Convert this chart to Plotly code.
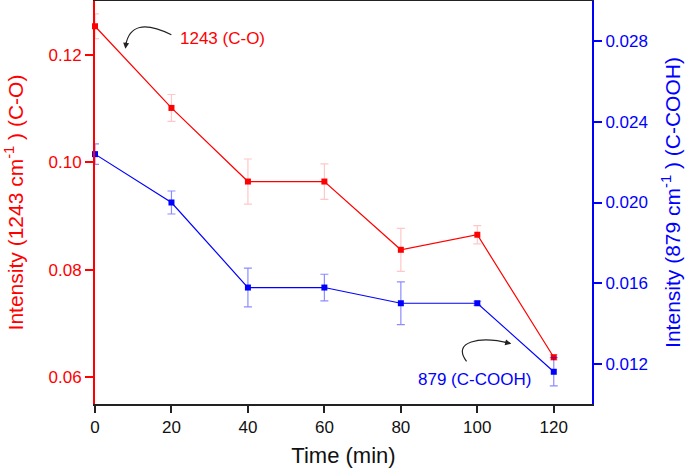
import plotly.graph_objects as go

time_min = [0, 20, 40, 60, 80, 100, 120]
co_1243 = [0.1253, 0.1101, 0.0964, 0.0964, 0.0837, 0.0865, 0.0637]
co_1243_err = [0.0023, 0.0025, 0.0042, 0.0033, 0.0040, 0.0017, 0.0005]
cooh_879 = [0.0224, 0.0200, 0.01578, 0.01578, 0.0150, 0.0150, 0.0116]
cooh_879_err = [0.00051, 0.00057, 0.00096, 0.00066, 0.00106, 0.00010, 0.00070]

x_ticks = [0, 20, 40, 60, 80, 100, 120]
left_ticks = [0.06, 0.08, 0.10, 0.12]
right_ticks = [0.012, 0.016, 0.020, 0.024, 0.028]

RED = "#FF0000"
BLUE = "#0000FF"
FONT = "Arial, Liberation Sans, sans-serif"

fig = go.Figure()
fig.add_trace(go.Scatter(
    x=time_min, y=co_1243, mode="lines+markers",
    line=dict(color=RED, width=1.2),
    marker=dict(symbol="square", size=6, color=RED),
    error_y=dict(type="data", array=co_1243_err, color="rgba(255,0,0,0.22)", thickness=1.2, width=4),
    cliponaxis=False, showlegend=False, yaxis="y"))
fig.add_trace(go.Scatter(
    x=time_min, y=cooh_879, mode="lines+markers",
    line=dict(color=BLUE, width=1.2),
    marker=dict(symbol="square", size=6, color=BLUE),
    error_y=dict(type="data", array=cooh_879_err, color="rgba(0,0,255,0.45)", thickness=1.2, width=4),
    cliponaxis=False, showlegend=False, yaxis="y2"))

# curved arrows (decorations)
fig.add_shape(type="path", xref="x", yref="y",
              path="M 19.97,0.12371 Q 9.37,0.12741 8.03,0.12173",
              line=dict(color="#222222", width=1.2))
fig.add_annotation(x=7.95, y=0.12111, xref="x", yref="y", text="", showarrow=True,
                   ax=1, ay=-8, arrowhead=2, arrowsize=1, arrowwidth=1.2, arrowcolor="#222222")
fig.add_shape(type="path", xref="x", yref="y",
              path="M 97.18,0.062913 C 93.25,0.066623 100.58,0.067737 108.68,0.066252",
              line=dict(color="#222222", width=1.2))
fig.add_annotation(x=108.86, y=0.066197, xref="x", yref="y", text="", showarrow=True,
                   ax=-8, ay=-2, arrowhead=2, arrowsize=1, arrowwidth=1.2, arrowcolor="#222222")

fig.add_annotation(x=21.6, y=0.1231, xref="x", yref="y", text="1243 (C-O)", showarrow=False,
                   xanchor="left", yanchor="middle", font=dict(color=RED, size=17, family=FONT))
fig.add_annotation(x=84.0, y=0.0596, xref="x", yref="y", text="879 (C-COOH)", showarrow=False,
                   xanchor="left", yanchor="middle", font=dict(color=BLUE, size=17, family=FONT))

fig.update_layout(
    width=685, height=471,
    margin=dict(l=95, r=93, t=1, b=67, autoexpand=False),
    paper_bgcolor="white", plot_bgcolor="white",
    font=dict(family=FONT),
    xaxis=dict(range=[0, 130], tickvals=x_ticks, ticks="outside", ticklen=7, tickwidth=1.5,
               tickcolor="#222222", showline=True, linecolor="#222222", linewidth=2, mirror=True,
               showgrid=False, zeroline=False, automargin=False,
               tickfont=dict(size=17, color="#111111"),
               title=dict(text="Time (min)", font=dict(size=22, color="#111111"), standoff=11)),
    yaxis=dict(range=[0.055, 0.13], tickvals=left_ticks, tickformat=".2f", ticks="outside",
               ticklen=8, tickwidth=1.5, tickcolor=RED, showline=True, linecolor=RED, linewidth=2,
               showgrid=False, zeroline=False, automargin=False,
               tickfont=dict(size=17, color=RED),
               title=dict(text="Intensity (1243 cm<sup>-1</sup> ) (C-O)", font=dict(size=21, color=RED), standoff=19)),
    yaxis2=dict(range=[0.010, 0.030], tickvals=right_ticks, tickformat=".3f", ticks="outside",
                ticklen=8, tickwidth=1.5, tickcolor=BLUE, showline=True, linecolor=BLUE, linewidth=2,
                overlaying="y", side="right", showgrid=False, zeroline=False, automargin=False,
                tickfont=dict(size=17, color=BLUE),
                title=dict(text="Intensity (879 cm<sup>-1</sup> ) (C-COOH)", font=dict(size=21, color=BLUE), standoff=18)),
)

fig.write_html("out.html", config={"displayModeBar": False},
               post_script="document.body.style.margin='0';document.body.style.overflow='hidden';")
